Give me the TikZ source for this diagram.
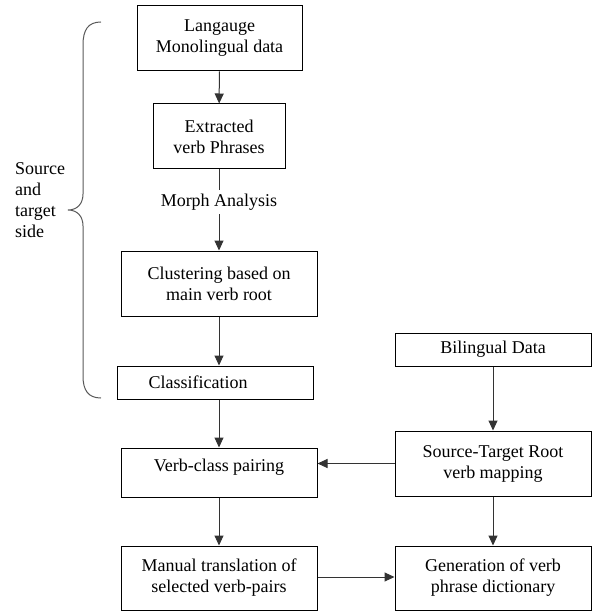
\documentclass[tikz,border=0pt]{standalone}
\usepackage{fontspec}
\setmainfont{Liberation Serif}
\newfontfamily\tnr{Liberation Serif}
\usetikzlibrary{arrows.meta}
\begin{document}
\begin{tikzpicture}[x=1pt,y=-1pt,
  font=\tnr\fontsize{18}{21}\selectfont,
  box/.style={draw=black, line width=1pt, rectangle, align=center, inner sep=0pt},
  arr/.style={draw=black!80, line width=1pt, -{Triangle[length=10pt,width=9pt]}},
  lin/.style={draw=black!80, line width=1pt}]
\useasboundingbox (0,0) rectangle (592,612);
% left column
\node[box, minimum width=165, minimum height=65] (b1) at (219.5,38.5) {Langauge\\Monolingual data};
\node[box, minimum width=132, minimum height=65] (b2) at (219,136.5) {Extracted\\verb Phrases};
\node[box, minimum width=196, minimum height=65] (b3) at (219,283.5) {Clustering based on\\main verb root};
\node[box, minimum width=196, minimum height=33] (b4) at (215,382.5) {Classification\hspace*{34pt}};
\node[box, minimum width=196, minimum height=49, text depth=14pt] (b5) at (219,472.5) {Verb-class pairing};
\node[box, minimum width=196, minimum height=64] (b6) at (219,578) {Manual translation of\\selected verb-pairs};
% right column
\node[box, minimum width=196, minimum height=33] (r1) at (493,349.5) {Bilingual Data};
\node[box, minimum width=196, minimum height=65] (r2) at (493,463.5) {Source-Target Root\\verb mapping};
\node[box, minimum width=196, minimum height=64] (r3) at (493,578) {Generation of verb\\phrase dictionary};
% side label
\node[align=left, anchor=north west, inner sep=0pt] (side) at (15,162) {Source\\and\\target\\side};
% brace
\draw[draw=black!65, line width=1pt] (101,22) .. controls (88,22) and (83,30) .. (83,45) -- (83,194)
  .. controls (83,204) and (77,210) .. (68,210) .. controls (77,210) and (83,216) .. (83,226)
  -- (83,376) .. controls (83,390) and (88,398) .. (101,398);
% connectors
\draw[arr] (b1) -- (b2);
\draw[arr] (b2) -- node[pos=0.4, fill=white, inner sep=4pt] (morph) {Morph Analysis} (b3);
\draw[arr] (b3.south) -- (b3.south |- b4.north);
\draw[arr] (b3.south |- b4.south) -- (b5.north);
\draw[arr] (b5) -- (b6);
\draw[arr] (r1) -- (r2);
\draw[arr] (r2) -- (r3);
\draw[arr] (r2.west) -- (b5.east |- r2.west);
\draw[arr] (b6.east |- 0,577) -- (r3.west |- 0,577);
\end{tikzpicture}
\end{document}
